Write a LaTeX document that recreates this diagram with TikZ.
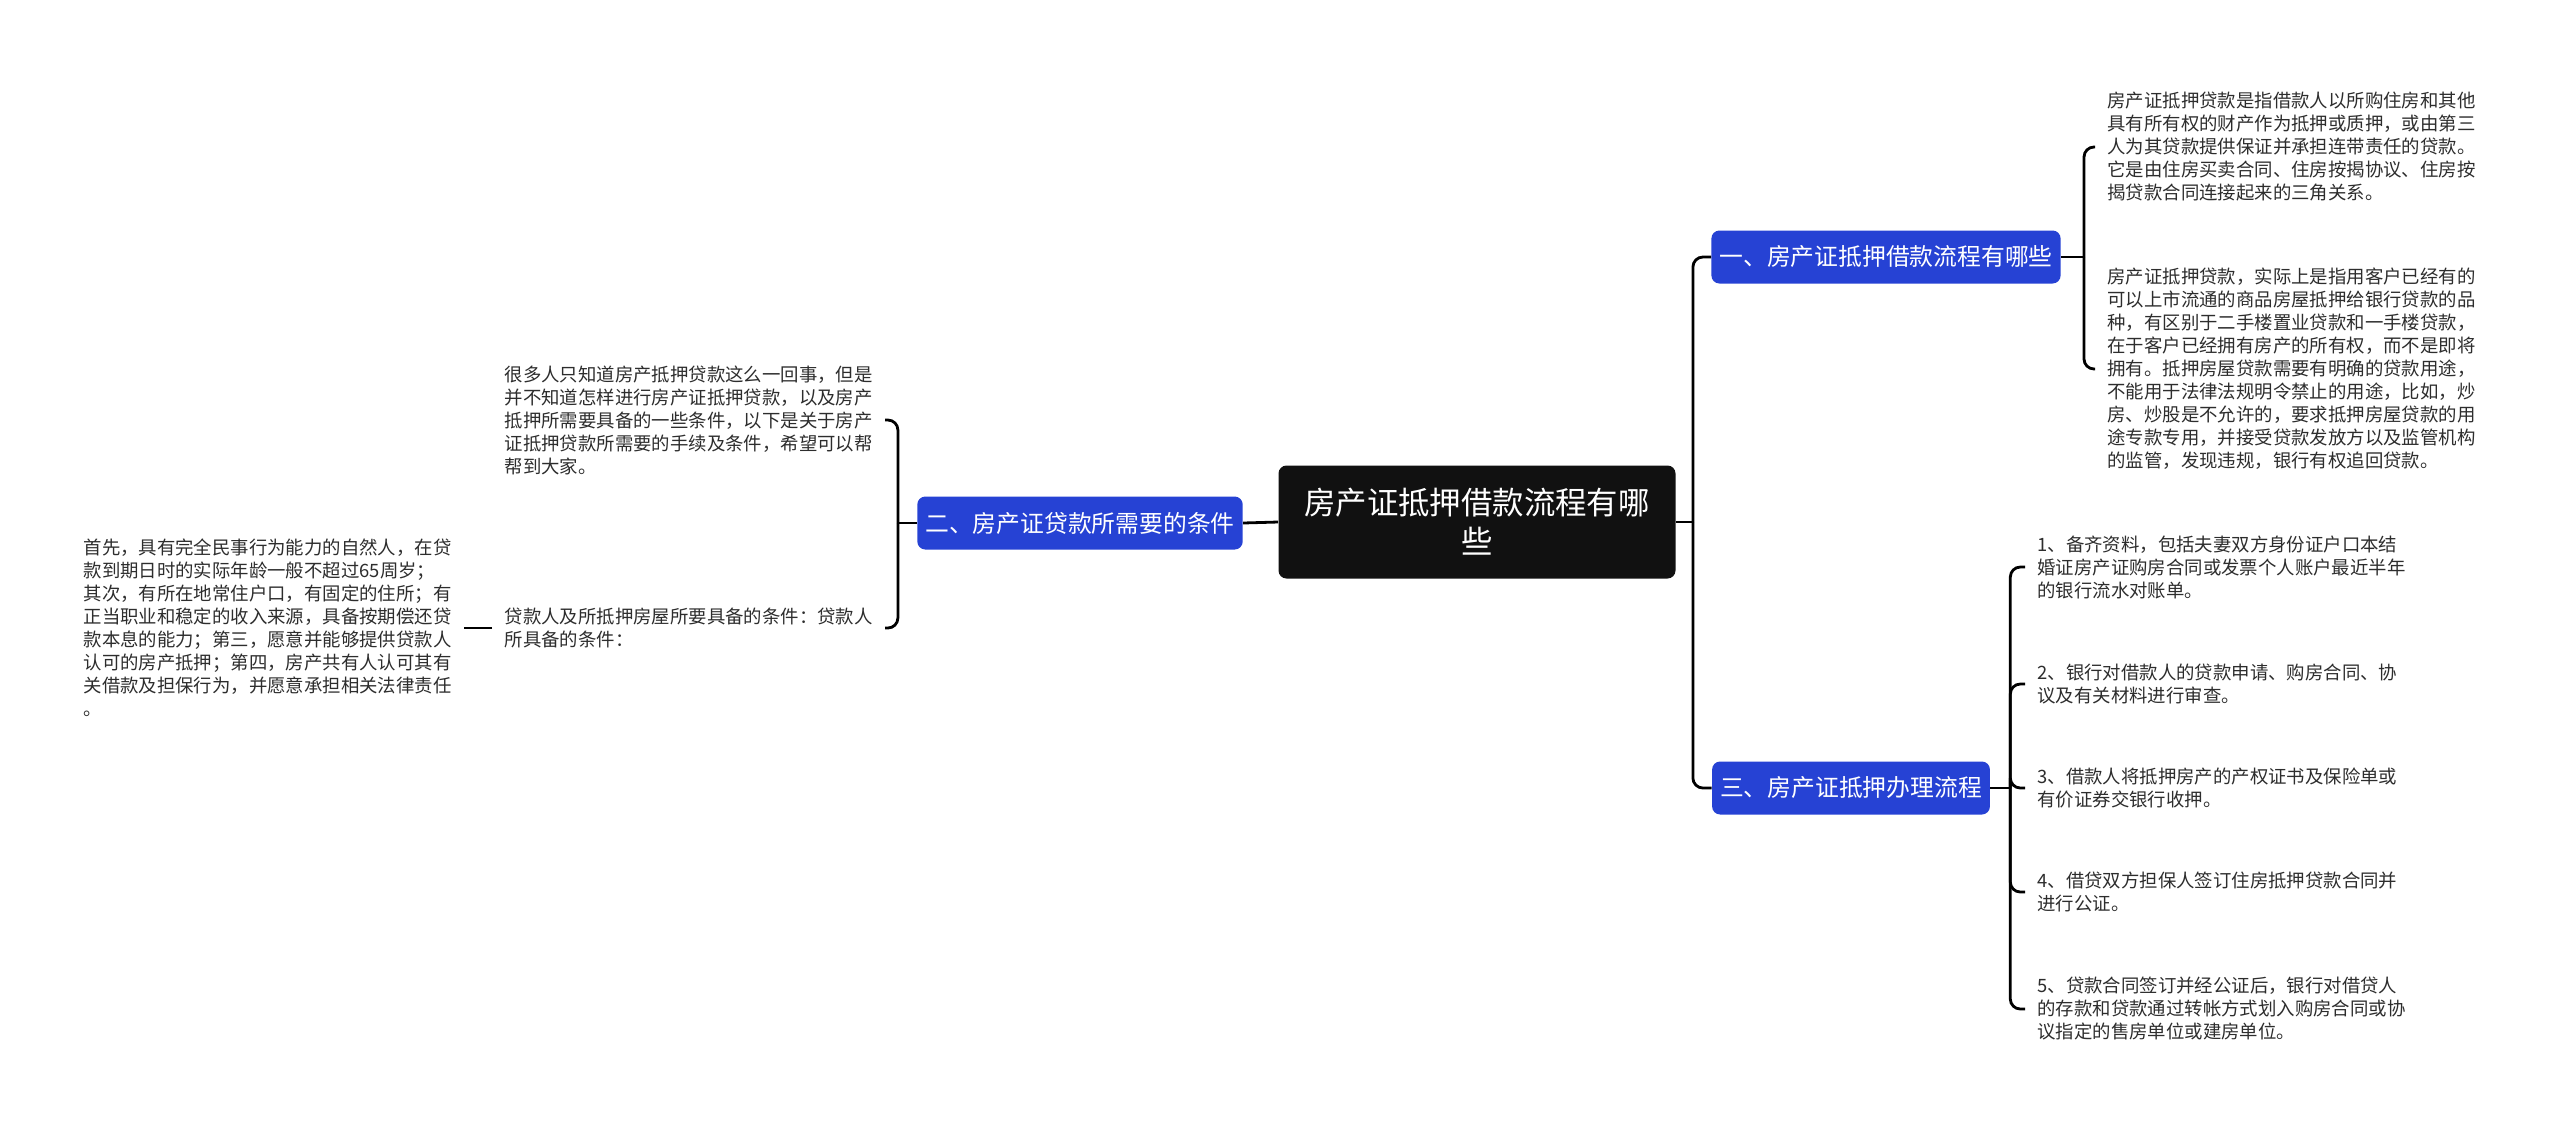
\documentclass[tikz,border=0pt]{standalone}
\usepackage{fontspec}
\setmainfont{Noto Sans CJK SC}
\definecolor{branchblue}{RGB}{38,66,212}
\definecolor{rootblack}{RGB}{17,17,17}
\definecolor{leafgray}{RGB}{45,45,45}

\begin{document}
\begin{tikzpicture}[x=0.5pt,y=-0.5pt,
    root/.style={fill=rootblack,text=white,rounded corners=4pt,align=center,
      font=\fontsize{15.7pt}{19.6pt}\selectfont,minimum width=198.5pt,minimum height=56.5pt,inner sep=0pt},
    branch/.style={fill=branchblue,text=white,rounded corners=4pt,
      font=\fontsize{11.9pt}{14pt}\selectfont,minimum height=26.5pt,inner xsep=4pt,inner ysep=0pt},
    leaf/.style={text=leafgray,align=left,font=\fontsize{9.2pt}{11.5pt}\selectfont,inner xsep=6pt,inner ysep=2pt},
    link/.style={line width=1.4pt,rounded corners=5pt}]
  \useasboundingbox (0,0) rectangle (2560,1132);

  % Centre and main branches
  \node[root] (root) at (1477,522) {房产证抵押借款流程有哪\\些};
  \node[branch] (b1) at (1886,257) {一、房产证抵押借款流程有哪些};
  \node[branch] (b2) at (1080,523) {二、房产证贷款所需要的条件};
  \node[branch] (b3) at (1851,788) {三、房产证抵押办理流程};

  % Leaves of branch one
  \node[leaf,anchor=west] (l1a) at (2095,147) {房产证抵押贷款是指借款人以所购住房和其他\\具有所有权的财产作为抵押或质押，或由第三\\人为其贷款提供保证并承担连带责任的贷款。\\它是由住房买卖合同、住房按揭协议、住房按\\揭贷款合同连接起来的三角关系。};
  \node[leaf,anchor=west] (l1b) at (2095,369) {房产证抵押贷款，实际上是指用客户已经有的\\可以上市流通的商品房屋抵押给银行贷款的品\\种，有区别于二手楼置业贷款和一手楼贷款，\\在于客户已经拥有房产的所有权，而不是即将\\拥有。抵押房屋贷款需要有明确的贷款用途，\\不能用于法律法规明令禁止的用途，比如，炒\\房、炒股是不允许的，要求抵押房屋贷款的用\\途专款专用，并接受贷款发放方以及监管机构\\的监管，发现违规，银行有权追回贷款。};

  % Leaves of branch two
  \node[leaf,anchor=east] (l2a) at (885,420) {很多人只知道房产抵押贷款这么一回事，但是\\并不知道怎样进行房产证抵押贷款，以及房产\\抵押所需要具备的一些条件，以下是关于房产\\证抵押贷款所需要的手续及条件，希望可以帮\\帮到大家。};
  \node[leaf,anchor=east] (l2b) at (885,628) {贷款人及所抵押房屋所要具备的条件：贷款人\\所具备的条件：};
  \node[leaf,anchor=east] (l2c) at (464,628) {首先，具有完全民事行为能力的自然人，在贷\\款到期日时的实际年龄一般不超过65周岁；\\其次，有所在地常住户口，有固定的住所；有\\正当职业和稳定的收入来源，具备按期偿还贷\\款本息的能力；第三，愿意并能够提供贷款人\\认可的房产抵押；第四，房产共有人认可其有\\关借款及担保行为，并愿意承担相关法律责任\\。};

  % Leaves of branch three
  \node[leaf,anchor=west] (l3a) at (2025,567) {1、备齐资料，包括夫妻双方身份证户口本结\\婚证房产证购房合同或发票个人账户最近半年\\的银行流水对账单。};
  \node[leaf,anchor=west] (l3b) at (2025,684) {2、银行对借款人的贷款申请、购房合同、协\\议及有关材料进行审查。};
  \node[leaf,anchor=west] (l3c) at (2025,788) {3、借款人将抵押房产的产权证书及保险单或\\有价证券交银行收押。};
  \node[leaf,anchor=west] (l3d) at (2025,892) {4、借贷双方担保人签订住房抵押贷款合同并\\进行公证。};
  \node[leaf,anchor=west] (l3e) at (2025,1009) {5、贷款合同签订并经公证后，银行对借贷人\\的存款和贷款通过转帐方式划入购房合同或协\\议指定的售房单位或建房单位。};

  % Joints
  \coordinate (rj) at ([xshift=8.5pt]root.east);
  \coordinate (j1) at ([xshift=11.5pt]b1.east);
  \coordinate (j2) at ([xshift=-9.5pt]b2.west);
  \coordinate (j3) at ([xshift=10pt]b3.east);

  % Connectors
  \draw[link] (root.west) -- (b2.east);
  \draw[link] (root.east) -- (rj);
  \draw[link] (rj) |- (b1.west);
  \draw[link] (rj) |- (b3.west);
  \draw[link] (b1.east) -- (j1);
  \draw[link] (j1) |- (l1a.west);
  \draw[link] (j1) |- (l1b.west);
  \draw[link] (b2.west) -- (j2);
  \draw[link] (j2) |- (l2a.east);
  \draw[link] (j2) |- (l2b.east);
  \draw[link] (l2b.west) -- (l2c.east);
  \draw[link] (b3.east) -- (j3);
  \foreach \n in {l3a,l3b,l3c,l3d,l3e}
    \draw[link] (j3) |- (\n.west);
\end{tikzpicture}
\end{document}
